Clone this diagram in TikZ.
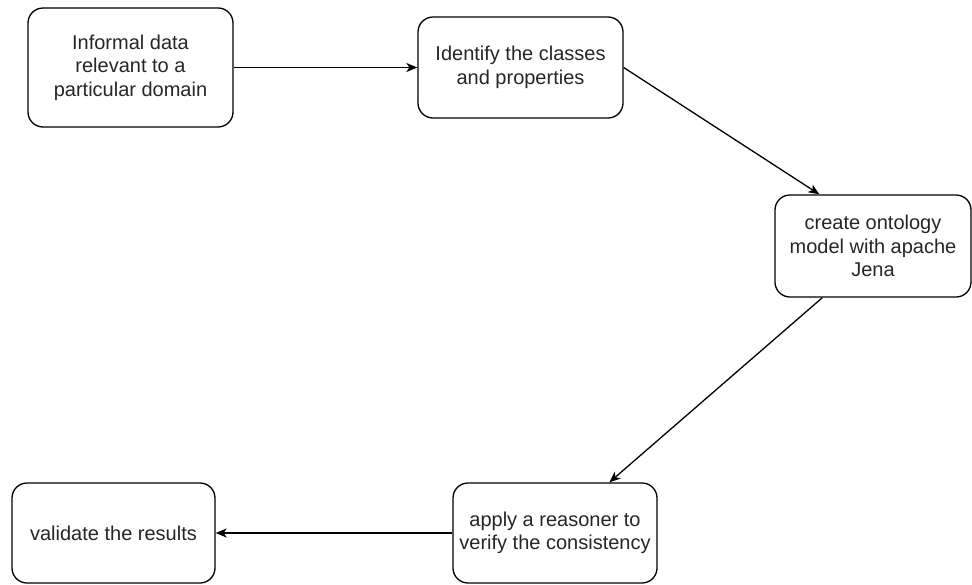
\documentclass[tikz,border=0pt]{standalone}
\usepackage{fontspec}
\setmainfont{Liberation Sans}
\usetikzlibrary{arrows.meta}
\begin{document}
\begin{tikzpicture}[x=1pt,y=-1pt,
  stepbox/.style={draw=black, line width=1.3pt, rounded corners=15pt,
    align=center, inner sep=0pt, text=black!85,
    font=\fontsize{20}{23.5}\selectfont},
  flow/.style={draw=black, line width=1.3pt,
    -{Stealth[length=11pt,width=9pt,inset=3pt]}}]
\useasboundingbox (0,0) rectangle (972,584);
\fill[white] (0,0) rectangle (972,584);

\node[stepbox, minimum width=205pt, minimum height=119pt] (data) at (130.5,67.5)
  {Informal data\\relevant to a\\particular domain};
\node[stepbox, minimum width=205pt, minimum height=101pt] (ident) at (520.5,67.5)
  {Identify the classes\\and properties};
\node[stepbox, minimum width=196pt, minimum height=102pt] (model) at (873,246)
  {create ontology\\model with apache\\Jena};
\node[stepbox, minimum width=204pt, minimum height=100pt] (reason) at (555,533)
  {apply a reasoner to\\verify the consistency};
\node[stepbox, minimum width=203pt, minimum height=100pt] (valid) at (113.5,533)
  {validate the results};

\draw[flow] (data.east) -- (ident.west);
\draw[flow] (ident.east) -- ([xshift=45pt]model.north west);
\draw[flow] ([xshift=48pt]model.south west) -- ([xshift=157pt]reason.north west);
\draw[flow] (reason.west) -- (valid.east);
\end{tikzpicture}
\end{document}
